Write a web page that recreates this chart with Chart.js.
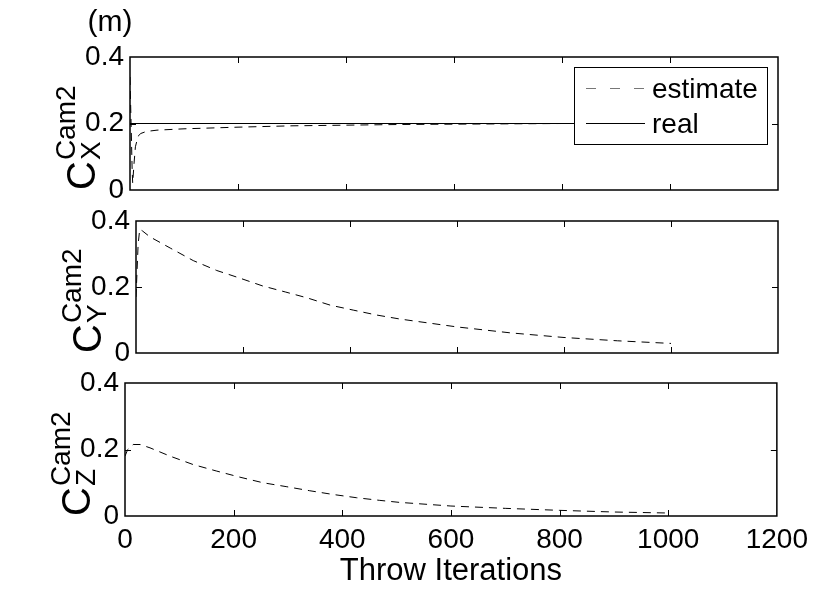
<!DOCTYPE html>
<html>
<head>
<meta charset="utf-8">
<script src="https://cdn.jsdelivr.net/npm/chart.js@4.4.1/dist/chart.umd.min.js"></script>
<style>
  html, body { margin: 0; padding: 0; background: #fff; }
  #wrap { position: relative; width: 815px; height: 590px; overflow: hidden; background: #fff; }
  #wrap canvas { position: absolute; left: 0; }
</style>
</head>
<body>
<div id="wrap">
  <canvas id="cx" width="815" height="215" style="top:0px"></canvas>
  <canvas id="cy" width="815" height="190" style="top:190px"></canvas>
  <canvas id="cz" width="815" height="230" style="top:360px"></canvas>
</div>
<script>
// ---- data ----
const xTickValues = [0, 200, 400, 600, 800, 1000, 1200];
const yTickValues = [0, 0.2, 0.4];

// C_X^Cam2
const cxIter = [0, 2, 4, 5, 7, 10, 15, 20, 30, 50, 100, 200, 300, 400, 500, 600, 700, 800, 900, 1000];
const cxEstimate = [0.34, 0.2, 0.06, 0.02, 0.07, 0.13, 0.162, 0.17, 0.176, 0.18, 0.184, 0.189, 0.193, 0.195, 0.197, 0.198, 0.199, 0.2, 0.2, 0.2];
const cxRealIter = [0, 1000];
const cxReal = [0.2, 0.2];

// C_Y^Cam2
const cyIter = [0, 2, 4, 7, 12, 26, 64, 107, 151, 194, 237, 279, 320, 363, 406, 450, 493, 600, 700, 800, 900, 1000];
const cyEstimate = [0.17, 0.25, 0.33, 0.375, 0.37, 0.352, 0.318, 0.28, 0.25, 0.227, 0.203, 0.185, 0.167, 0.145, 0.13, 0.115, 0.103, 0.079, 0.061, 0.047, 0.037, 0.029];

// C_Z^Cam2
const czIter = [0, 5, 15, 28, 46, 83, 125, 169, 211, 254, 298, 340, 382, 426, 469, 505, 600, 700, 800, 900, 1000];
const czEstimate = [0.18, 0.2, 0.215, 0.215, 0.205, 0.18, 0.155, 0.135, 0.117, 0.1, 0.088, 0.076, 0.065, 0.055, 0.047, 0.041, 0.03, 0.023, 0.017, 0.012, 0.009];

const FONT = "'Liberation Sans', Arial, Helvetica, sans-serif";
const toPts = (xs, ys) => xs.map((x, i) => ({ x: x, y: ys[i] }));

// matlab style frame, inward ticks, y label, legend
const matlabAxes = {
  id: "matlabAxes",
  afterDatasetsDraw(chart, args, opts) {
    const { ctx, chartArea: a } = chart;
    if (opts.legend) {
      const w = 193, h = 77;
      const bx = a.right - 11 - w, by = a.top + 10;
      ctx.save();
      ctx.fillStyle = "#fff";
      ctx.fillRect(bx, by, w, h);
      ctx.strokeStyle = "#000";
      ctx.lineWidth = 1;
      ctx.strokeRect(bx + 0.5, by + 0.5, w, h);
      chart.data.datasets.forEach((ds, i) => {
        const ly = by + 21 + i * 35;
        ctx.beginPath();
        ctx.setLineDash(ds.borderDash ? [10, 14] : []);
        ctx.strokeStyle = ds.borderDash ? "#777" : "#000";
        ctx.moveTo(bx + 12, ly + 0.5);
        ctx.lineTo(bx + 71, ly + 0.5);
        ctx.stroke();
        ctx.setLineDash([]);
        ctx.fillStyle = "#000";
        ctx.font = "28px " + FONT;
        ctx.textBaseline = "alphabetic";
        ctx.textAlign = "left";
        ctx.fillText(ds.label, bx + 78, ly + 10);
      });
      ctx.restore();
    }
  },
  afterDraw(chart, args, opts) {
    const { ctx, chartArea: a, scales: { x, y } } = chart;
    ctx.save();
    ctx.strokeStyle = "#000";
    ctx.lineWidth = 1;
    ctx.beginPath();
    x.ticks.forEach((t) => {
      if (t.value <= x.min || t.value >= x.max) return;
      const px = Math.round(x.getPixelForValue(t.value)) + 0.5;
      ctx.moveTo(px, a.bottom); ctx.lineTo(px, a.bottom - 6);
      ctx.moveTo(px, a.top); ctx.lineTo(px, a.top + 6);
    });
    y.ticks.forEach((t) => {
      if (t.value <= y.min || t.value >= y.max) return;
      const py = Math.round(y.getPixelForValue(t.value)) + 0.5;
      ctx.moveTo(a.left, py); ctx.lineTo(a.left + 6, py);
      ctx.moveTo(a.right, py); ctx.lineTo(a.right - 6, py);
    });
    ctx.stroke();
    ctx.lineWidth = 1.5;
    ctx.strokeRect(a.left, a.top, a.right - a.left, a.bottom - a.top);

    // y label: C with superscript Cam2 and subscript, reading upward from the axis bottom
    ctx.translate(a.left - 35, a.bottom);
    ctx.rotate(-Math.PI / 2);
    ctx.fillStyle = "#000";
    ctx.textBaseline = "alphabetic";
    ctx.textAlign = "left";
    ctx.font = "40px " + FONT;
    const wC = ctx.measureText("C").width;
    ctx.fillText("C", 0, 0);
    ctx.font = "28px " + FONT;
    ctx.fillText("Cam2", wC + 1, -20);
    ctx.fillText(opts.sub, wC + 1, 5);
    ctx.setTransform(1, 0, 0, 1, 0, 0);

    if (opts.unit) {
      ctx.font = "30px " + FONT;
      ctx.textAlign = "center";
      ctx.fillText("(m)", a.left - 20, a.top - 26);
    }
    ctx.restore();
  },
};

function makeChart(id, datasets, o) {
  return new Chart(document.getElementById(id), {
    type: "line",
    data: { datasets: datasets },
    options: {
      responsive: false,
      devicePixelRatio: 1,
      animation: false,
      layout: { padding: { top: o.top, right: 37, bottom: o.bottom, left: 0 } },
      elements: { point: { radius: 0 }, line: { tension: 0 } },
      plugins: {
        legend: { display: false },
        tooltip: { enabled: false },
        matlabAxes: { sub: o.sub, legend: !!o.legend, unit: !!o.unit },
      },
      scales: {
        x: {
          type: "linear",
          min: 0,
          max: 1200,
          afterBuildTicks: (s) => { s.ticks = xTickValues.map((v) => ({ value: v })); },
          ticks: {
            display: !!o.showX,
            color: "#000",
            font: { family: FONT, size: 28 },
            padding: 7,
            maxRotation: 0,
            autoSkip: false,
            callback: (v) => String(v),
          },
          grid: { display: false, drawTicks: false },
          border: { display: false },
          title: {
            display: !!o.showX,
            text: "Throw Iterations",
            color: "#000",
            font: { family: FONT, size: 31 },
            padding: { top: 0, bottom: 0 },
          },
          afterFit: (s) => { s.height = o.xh; },
        },
        y: {
          min: 0,
          max: 0.4,
          afterBuildTicks: (s) => { s.ticks = yTickValues.map((v) => ({ value: v })); },
          ticks: { color: "#000", font: { family: FONT, size: 28 }, padding: 6, callback: (v) => String(v) },
          grid: { display: false, drawTicks: false },
          border: { display: false },
          afterFit: (s) => { s.width = o.left; },
        },
      },
    },
    plugins: [matlabAxes],
  });
}

const dashStyle = { borderColor: "#000", borderWidth: 1, borderDash: [8, 6], fill: false };
const solidStyle = { borderColor: "#000", borderWidth: 1, fill: false };

makeChart("cx", [
  Object.assign({ label: "estimate", data: toPts(cxIter, cxEstimate) }, dashStyle),
  Object.assign({ label: "real", data: toPts(cxRealIter, cxReal) }, solidStyle),
], { top: 57, bottom: 25, left: 130, xh: 0, sub: "X", legend: true, unit: true });

makeChart("cy", [
  Object.assign({ label: "estimate", data: toPts(cyIter, cyEstimate) }, dashStyle),
], { top: 31, bottom: 27, left: 136, xh: 0, sub: "Y" });

makeChart("cz", [
  Object.assign({ label: "estimate", data: toPts(czIter, czEstimate) }, dashStyle),
], { top: 23, bottom: 0, left: 125, xh: 74, sub: "Z", showX: true });
</script>
</body>
</html>
